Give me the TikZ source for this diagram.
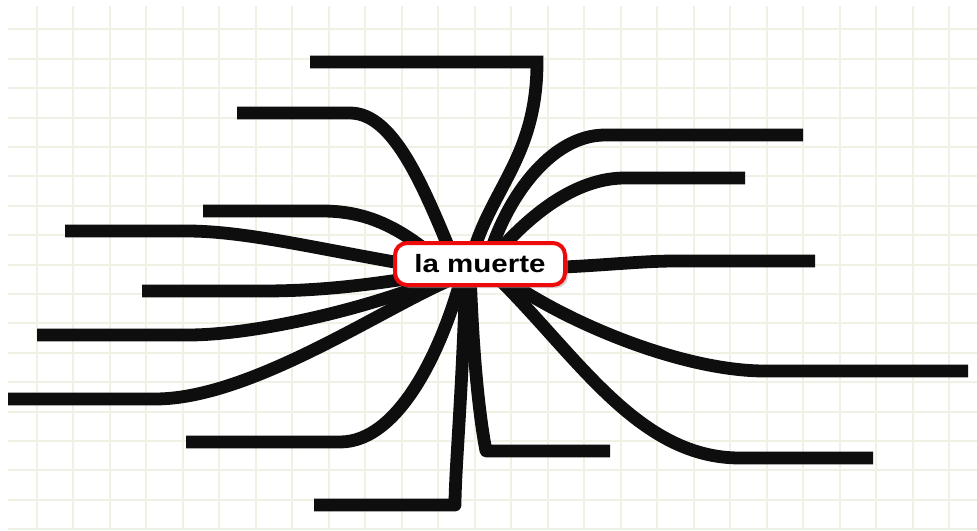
\documentclass[tikz,border=0pt]{standalone}
\usepackage{fontspec}
\setmainfont{Liberation Sans}
\usepackage{graphicx}
\usepackage{tikz}
\usetikzlibrary{shadows}
\definecolor{gridgreen}{RGB}{237,242,229}
\definecolor{inkred}{RGB}{236,10,10}
\definecolor{ink}{RGB}{14,14,14}
\pgfdeclarelayer{paper}
\pgfdeclarelayer{limbs}
\pgfsetlayers{paper,limbs,main}

\begin{document}
\begin{tikzpicture}[x=0.5pt, y=-0.5pt,
          topic/.style={draw=inkred, line width=2pt, rounded corners=6pt,
                        fill=white, minimum width=85pt, minimum height=21pt,
                        inner sep=0pt, font=\fontsize{12.5}{14}\selectfont\bfseries,
                        drop shadow={shadow xshift=1.5pt, shadow yshift=-1.5pt,
                                     fill=black!35}},
          branch/.style={draw=ink, line width=6.4pt, line join=round},
          gridline/.style={draw=gridgreen, line width=1pt}
        ]
          \useasboundingbox (0,0) rectangle (977,530);
          \node[topic] (death) at (480,264) {\scalebox{1.18}[1]{la muerte}};
          % ends of the branches: knee, then tip
          \coordinate (k1) at (537,62);   \coordinate (t1) at (310,62);
          \coordinate (k2) at (350,113);  \coordinate (t2) at (237,113);
          \coordinate (k3) at (322,211);  \coordinate (t3) at (203,211);
          \coordinate (k4) at (187,231);  \coordinate (t4) at (65,231);
          \coordinate (k5) at (263,291);  \coordinate (t5) at (142,291);
          \coordinate (k6) at (188,335);  \coordinate (t6) at (37,335);
          \coordinate (k7) at (155,399);  \coordinate (t7) at (8,399);
          \coordinate (k8) at (340,442);  \coordinate (t8) at (186,442);
          \coordinate (k9) at (455,505);  \coordinate (t9) at (314,505);
          \coordinate (k10) at (486,451); \coordinate (t10) at (610,451);
          \coordinate (k11) at (740,458); \coordinate (t11) at (873,458);
          \coordinate (k12) at (765,371); \coordinate (t12) at (968,371);
          \coordinate (k13) at (675,261); \coordinate (t13) at (815,261);
          \coordinate (k14) at (625,178); \coordinate (t14) at (745,178);
          \coordinate (k15) at (605,135); \coordinate (t15) at (803,135);
          \begin{pgfonlayer}{limbs}
            \draw[branch, line join=miter] ([shift={(-10,0)}]death.center) .. controls (488,190) and (537,160) .. (k1) -- (t1);
            \draw[branch] ([shift={(-22,6)}]death.center) .. controls (425,190) and (395,113) .. (k2) -- (t2);
            \draw[branch] ([shift={(-40,-2)}]death.center) .. controls (395,222) and (360,211) .. (k3) -- (t3);
            \draw[branch] ([shift={(-50,4)}]death.center) .. controls (330,252) and (250,231) .. (k4) -- (t4);
            \draw[branch] ([shift={(-50,11)}]death.center) .. controls (370,285) and (320,291) .. (k5) -- (t5);
            \draw[branch] ([shift={(-40,14)}]death.center) .. controls (380,305) and (260,335) .. (k6) -- (t6);
            \draw[branch] ([shift={(-30,16)}]death.center) .. controls (380,310) and (250,399) .. (k7) -- (t7);
            \draw[branch] ([shift={(-18,11)}]death.center) .. controls (445,340) and (402,442) .. (k8) -- (t8);
            \draw[branch] ([shift={(-14,6)}]death.center) .. controls (462,400) and (455,470) .. (k9) -- (t9);
            \draw[branch] ([shift={(-10,6)}]death.center) .. controls (474,390) and (484,440) .. (k10) -- (t10);
            \draw[branch] ([shift={(20,16)}]death.center) .. controls (580,360) and (640,458) .. (k11) -- (t11);
            \draw[branch] ([shift={(20,11)}]death.center) .. controls (560,320) and (680,371) .. (k12) -- (t12);
            \draw[branch] ([shift={(60,4)}]death.center) .. controls (600,266) and (640,261) .. (k13) -- (t13);
            \draw[branch] ([shift={(15,-9)}]death.center) .. controls (530,215) and (575,178) .. (k14) -- (t14);
            \draw[branch] ([shift={(8,-4)}]death.center) .. controls (505,200) and (550,135) .. (k15) -- (t15);
          \end{pgfonlayer}
          \begin{pgfonlayer}{paper}
            \fill[white] (0,0) rectangle (977,530);
            \foreach \i in {1,...,26}
              \draw[gridline] (36.5*\i,6) -- (36.5*\i,530);
            \foreach \j in {1,...,18}
              \draw[gridline] (8,29.4*\j) -- (977,29.4*\j);
          \end{pgfonlayer}
        \end{tikzpicture}
\end{document}
